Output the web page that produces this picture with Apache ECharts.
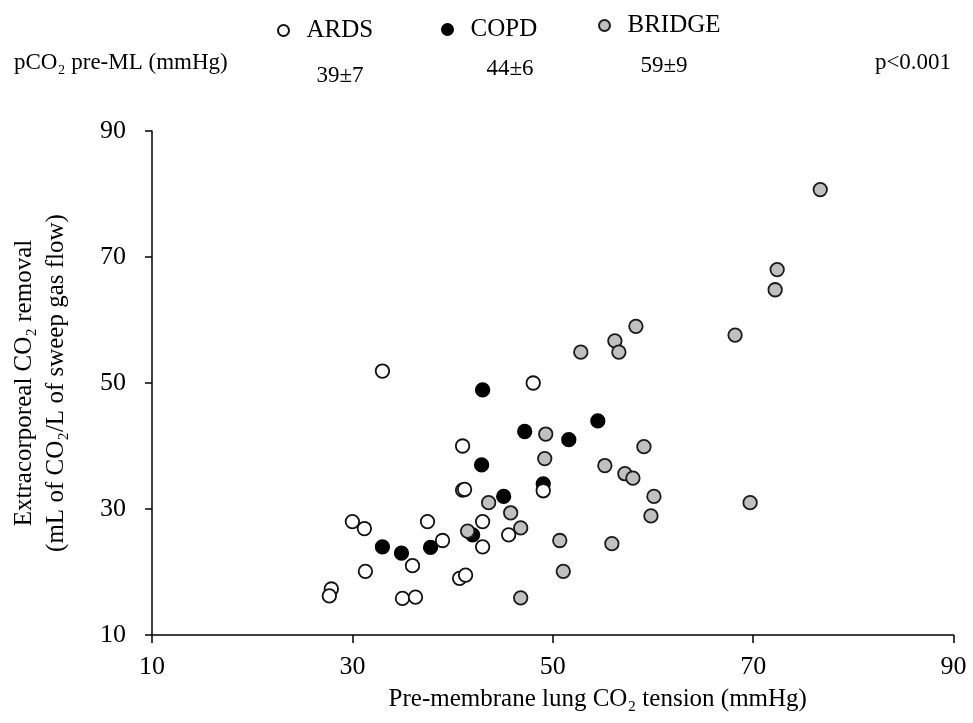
<!DOCTYPE html>
<html>
<head>
<meta charset="utf-8">
<title>ECCO2R vs pre-membrane pCO2</title>
<script src="https://cdn.jsdelivr.net/npm/echarts@6/dist/echarts.min.js"></script>
<style>
  html, body { margin: 0; padding: 0; background: #fff; }
  #chart { width: 973px; height: 723px; }
</style>
</head>
<body>
<div id="chart"></div>
<script>
// points: [pre-membrane pCO2, CO2 removal]
const ardsPoints = [
  [33.0, 51.9], [48.05, 50.0], [41.0, 40.0], [41.0, 33.0], [41.2, 33.1], [49.05, 32.9],
  [30.0, 28.0], [31.2, 26.9], [37.5, 28.0], [39.0, 25.0], [43.0, 28.0], [43.0, 24.0],
  [45.6, 25.9], [31.3, 20.1], [36.0, 21.0], [27.9, 17.3], [27.7, 16.2], [35.0, 15.8],
  [36.3, 16.0], [40.7, 19.0], [41.3, 19.5]
];
const copdPoints = [
  [43.0, 48.9], [47.2, 42.3], [51.6, 41.0], [54.5, 44.0], [42.9, 37.0], [49.05, 34.0],
  [45.1, 32.0], [42.0, 25.9], [33.0, 24.0], [34.9, 23.0], [37.8, 23.9]
];
const bridgePoints = [
  [52.8, 54.9], [56.2, 56.7], [56.6, 54.9], [58.3, 59.0], [68.2, 57.6], [72.2, 64.8],
  [72.4, 68.0], [76.7, 80.7], [49.3, 41.9], [49.2, 38.0], [55.2, 36.9], [57.2, 35.6],
  [58.0, 34.9], [59.1, 39.9], [60.1, 32.0], [59.8, 28.9], [69.7, 31.0], [43.6, 31.0],
  [45.8, 29.4], [46.8, 27.0], [41.5, 26.5], [50.7, 25.0], [55.9, 24.5], [51.05, 20.1],
  [46.8, 15.9]
];
const groupNames = ['ARDS', 'COPD', 'BRIDGE'];
const groupStats = ['39±7', '44±6', '59±9'];
const statsLabel = 'pCO₂ pre-ML (mmHg)';
const pValue = 'p<0.001';
const axisMin = 10, axisMax = 90, axisStep = 20;

const serif = "'Liberation Serif', 'Times New Roman', serif";

const chart = echarts.init(document.getElementById('chart'));

// each legend item placed on its own, like in the figure
const legendPos = [
  { left: 272, top: 13 },
  { left: 436, top: 12 },
  { left: 593, top: 8 }
];
const statsPos = [[340, 76], [510, 69], [664, 66]];

const serie = (name, data, fill, stroke) => ({
  name: name,
  type: 'scatter',
  data: data,
  symbol: 'circle',
  symbolSize: 13.5,
  itemStyle: { color: fill, borderColor: stroke, borderWidth: 1.8, opacity: 1 },
  emphasis: { disabled: true }
});

const option = {
  animation: false,
  backgroundColor: '#fff',
  textStyle: { fontFamily: serif, color: '#000' },
  legend: groupNames.map((n, i) => ({
    data: [n],
    left: legendPos[i].left,
    top: legendPos[i].top,
    itemWidth: 36,
    itemHeight: 11,
    selectedMode: false,
    textStyle: { fontFamily: serif, fontSize: 25, color: '#000' }
  })),
  graphic: [
    {
      type: 'text', left: 14, top: 63 - 12,
      style: { text: statsLabel, font: '23px ' + serif, fill: '#000' }
    },
    {
      type: 'text', x: 913, y: 63,
      style: { text: pValue, font: '23px ' + serif, fill: '#000', align: 'center', verticalAlign: 'middle' }
    }
  ].concat(groupStats.map((s, i) => ({
    type: 'text', x: statsPos[i][0], y: statsPos[i][1],
    style: { text: s, font: '23px ' + serif, fill: '#000', align: 'center', verticalAlign: 'middle' }
  }))),
  grid: { left: 152, top: 131, right: 19.5, bottom: 88, outerBoundsMode: 'none', containLabel: false },
  xAxis: {
    type: 'value',
    min: axisMin, max: axisMax, interval: axisStep,
    name: 'Pre-membrane lung CO₂ tension (mmHg)',
    nameLocation: 'middle',
    nameGap: 52,
    nameTextStyle: { fontFamily: serif, fontSize: 25, color: '#000', padding: [0, 0, 0, 90] },
    axisLine: { lineStyle: { color: '#000', width: 1.5 } },
    axisTick: { length: 8, lineStyle: { color: '#000', width: 1.5 } },
    axisLabel: { fontFamily: serif, fontSize: 26, color: '#000', margin: 19 },
    splitLine: { show: false }
  },
  yAxis: {
    type: 'value',
    min: axisMin, max: axisMax, interval: axisStep,
    name: 'Extracorporeal CO₂ removal\n(mL of CO₂/L of sweep gas flow)',
    nameLocation: 'middle',
    nameGap: 80,
    nameRotate: 90,
    nameTextStyle: { fontFamily: serif, fontSize: 25, color: '#000', lineHeight: 32 },
    axisLine: { show: true, lineStyle: { color: '#000', width: 1.5 } },
    axisTick: { show: true, length: 7, lineStyle: { color: '#000', width: 1.5 } },
    axisLabel: { fontFamily: serif, fontSize: 26, color: '#000', margin: 26 },
    splitLine: { show: false }
  },
  series: [
    serie('COPD', copdPoints, '#000', '#000'),
    serie('ARDS', ardsPoints, '#fff', '#111'),
    serie('BRIDGE', bridgePoints, '#c0c0c0', '#1a1a1a')
  ]
};

chart.setOption(option);
window.addEventListener('resize', chart.resize);
</script>
</body>
</html>
